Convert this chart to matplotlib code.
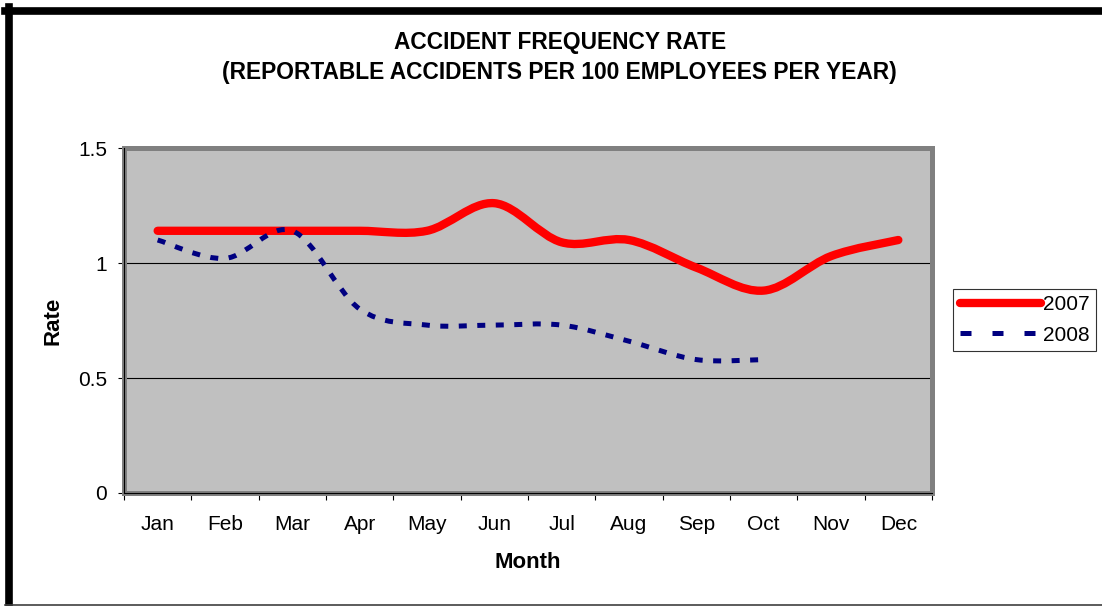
import numpy as np
import matplotlib
matplotlib.use("Agg")
import matplotlib.pyplot as plt
import matplotlib.lines as mlines
from matplotlib.path import Path
from matplotlib.patches import PathPatch

plt.rcParams.update({
    "font.family": ["Liberation Sans", "DejaVu Sans"],
    "figure.facecolor": "white",
    "font.size": 15,
})

months = ["Jan", "Feb", "Mar", "Apr", "May", "Jun",
          "Jul", "Aug", "Sep", "Oct", "Nov", "Dec"]
rate_2007 = [1.14, 1.14, 1.14, 1.14, 1.14, 1.26, 1.09, 1.10, 0.98, 0.88, 1.03, 1.10]
rate_2008 = [1.10, 1.02, 1.14, 0.80, 0.73, 0.73, 0.73, 0.66, 0.58, 0.58]
yticks = [0, 0.5, 1, 1.5]
ytick_labels = ["0", "0.5", "1", "1.5"]

W, H = 1102, 606


def smooth_path(xs, ys):
    # Excel-style smoothed line: cubic bezier segments (catmull-rom control points)
    pts = np.column_stack([xs, ys]).astype(float)
    ext = np.vstack([pts[:1], pts, pts[-1:]])
    verts = [pts[0]]
    codes = [Path.MOVETO]
    for i in range(len(pts) - 1):
        p_prev, p0, p1, p_next = ext[i], ext[i + 1], ext[i + 2], ext[i + 3]
        verts += [p0 + (p1 - p_prev) / 6.0, p1 - (p_next - p0) / 6.0, p1]
        codes += [Path.CURVE4] * 3
    return Path(np.array(verts), codes)


fig = plt.figure(figsize=(W / 100, H / 100), dpi=100)
ax = fig.add_axes([124 / W, (H - 493) / H, 808 / W, 345 / H])
ax.set_facecolor("#C0C0C0")

ax.set_xlim(-0.5, len(months) - 0.5)
ax.set_ylim(0, 1.5)

for y in (0.5, 1.0):
    ax.axhline(y, color="black", lw=0.8, zorder=1)

x07 = np.arange(len(rate_2007))
x08 = np.arange(len(rate_2008))
ax.add_patch(PathPatch(smooth_path(x07, rate_2007), fill=False, edgecolor="#FF0000",
                       lw=6.0, capstyle="round", joinstyle="round", zorder=3))
ax.add_patch(PathPatch(smooth_path(x08, rate_2008), fill=False, edgecolor="#000080",
                       lw=3.6, linestyle=(0, (1.6, 2.1)), capstyle="butt", zorder=4))

# frame: grey plot-area border + black axis lines
for s in ax.spines.values():
    s.set_color("#808080")
    s.set_linewidth(3.6)
ax.axvline(-0.5, color="black", lw=0.8, zorder=5, clip_on=False)
ax.axhline(0, color="black", lw=0.8, zorder=5, clip_on=False)

ax.set_yticks(yticks)
ax.set_yticklabels(ytick_labels)
ax.tick_params(axis="y", direction="out", length=4.5, width=0.8, color="black", pad=7.5,
               labelsize=15)
ax.set_xticks(np.arange(len(months)))
ax.set_xticklabels(months)
ax.set_xticks(np.arange(len(months) + 1) - 0.5, minor=True)
ax.tick_params(axis="x", which="major", length=0, pad=16, labelsize=15)
ax.tick_params(axis="x", which="minor", direction="out", length=5, width=0.8, color="black")

ax.set_ylabel("Rate", fontsize=16, fontweight="bold", va="center")
ax.yaxis.set_label_coords((53 - 124) / 808, 0.5)
ax.set_xlabel("Month", fontsize=16, fontweight="bold", va="center")
ax.xaxis.set_label_coords(0.5, (493 - 562) / 345)

fig.text(560 / W, 1 - 43 / H, "ACCIDENT FREQUENCY RATE",
         ha="center", va="center", fontsize=16.4, fontweight="bold")
fig.text(559 / W, 1 - 72 / H, "(REPORTABLE ACCIDENTS PER 100 EMPLOYEES PER YEAR)",
         ha="center", va="center", fontsize=16.4, fontweight="bold")

handles = [
    mlines.Line2D([], [], color="#FF0000", lw=6.0, solid_capstyle="round", label="2007"),
    mlines.Line2D([], [], color="#000080", lw=3.6, dashes=(2.2, 4.2),
                  dash_capstyle="butt", label="2008"),
]
leg = fig.legend(handles=handles, loc="center",
                 bbox_to_anchor=((952 + 1097) / 2 / W, 1 - 320 / H),
                 fontsize=15, frameon=True, fancybox=False, shadow=False,
                 handlelength=3.9, handletextpad=0.1, labelspacing=0.55,
                 borderpad=0.3, borderaxespad=0.0)
leg.get_frame().set_edgecolor("black")
leg.get_frame().set_linewidth(0.8)

# outer black chart border (clipped at right edge like the source)
fig.add_artist(mlines.Line2D([5 / W, 1.0], [1 - 10.5 / H, 1 - 10.5 / H],
                             color="black", lw=5.5, transform=fig.transFigure))
fig.add_artist(mlines.Line2D([9 / W, 9 / W], [1 - 7 / H, 0.0],
                             color="black", lw=5.5, transform=fig.transFigure))
fig.add_artist(mlines.Line2D([5 / W, 1.0], [1 - 605 / H, 1 - 605 / H],
                             color="#404040", lw=1.2, transform=fig.transFigure))

fig.savefig("out.png", dpi=100)
